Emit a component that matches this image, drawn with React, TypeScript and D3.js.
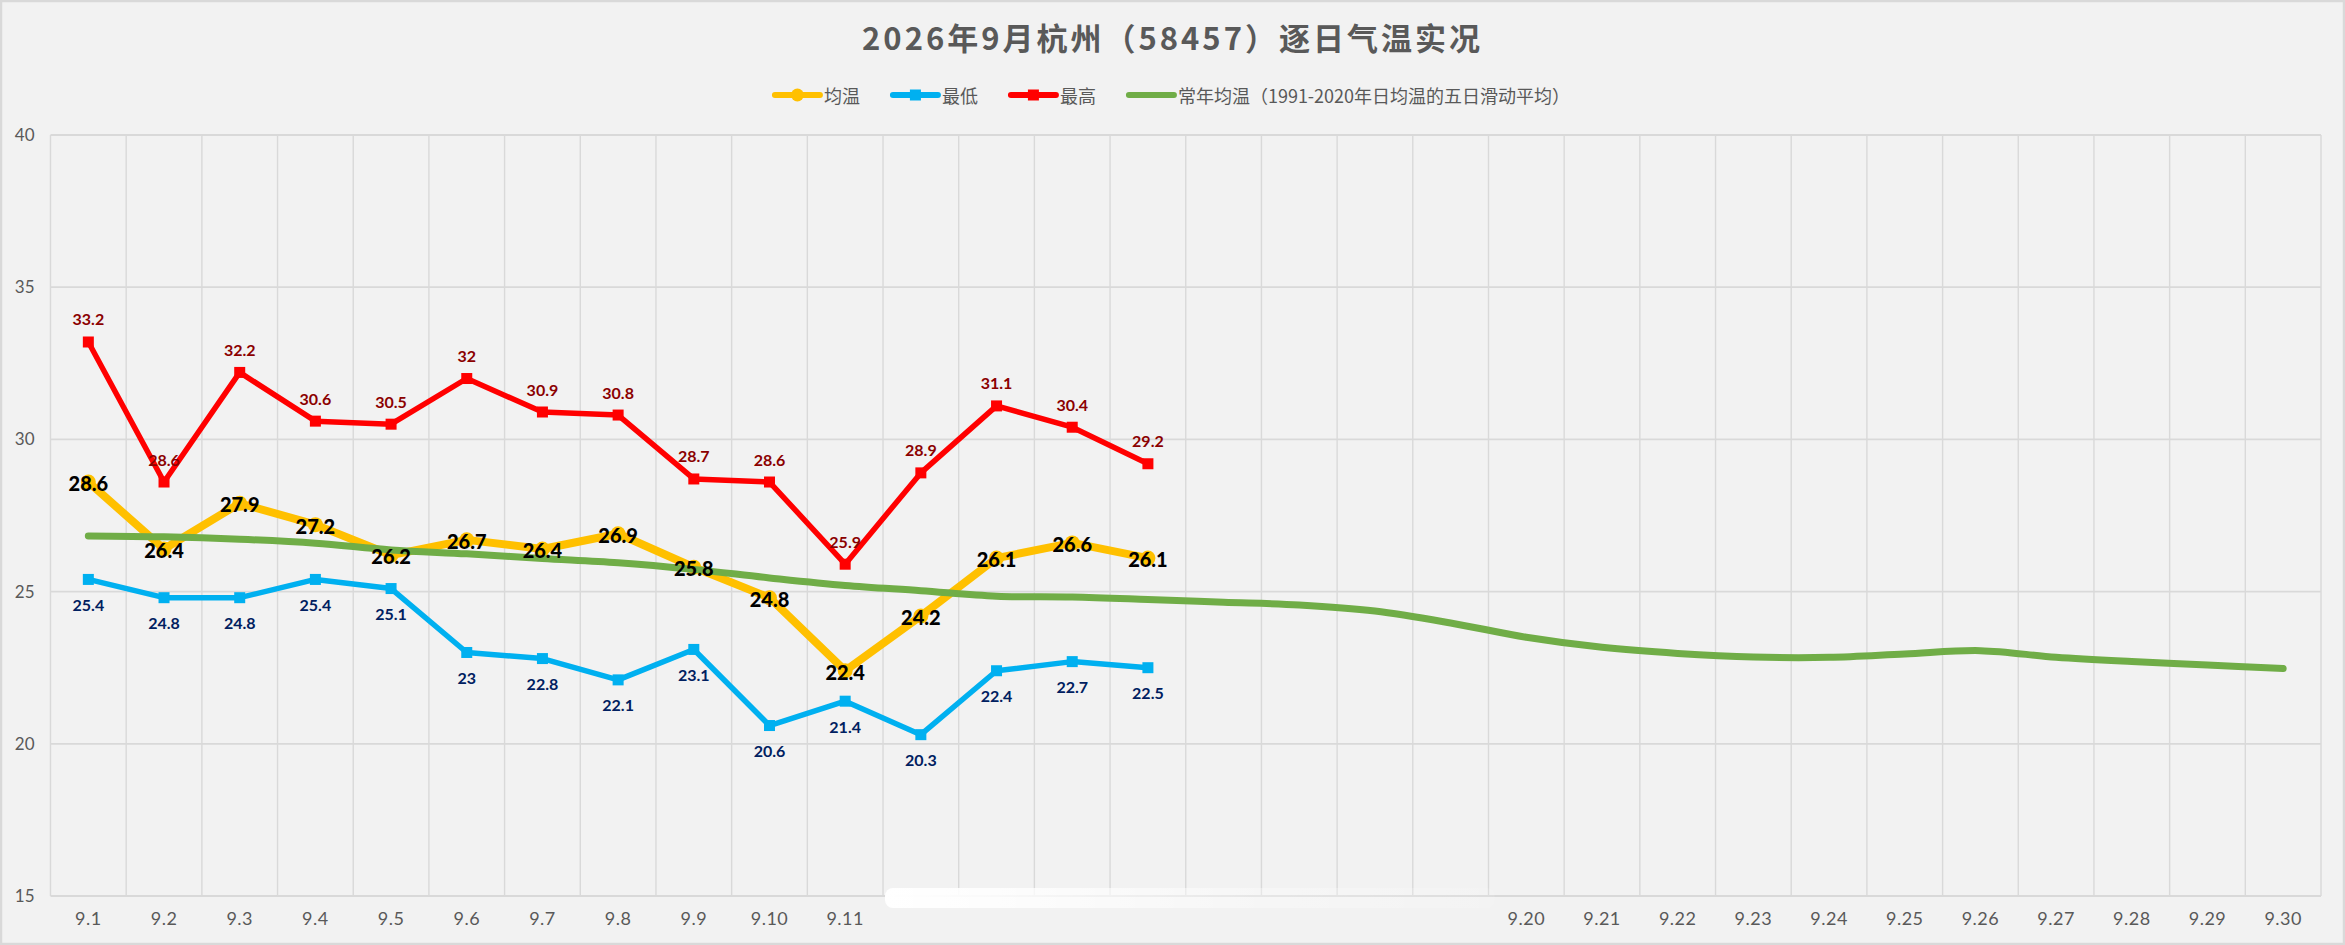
import React, { useEffect, useRef } from 'react';
import * as d3 from 'd3';

// 日期（9月）
const categories = [
  '9.1', '9.2', '9.3', '9.4', '9.5', '9.6', '9.7', '9.8', '9.9', '9.10',
  '9.11', '9.12', '9.13', '9.14', '9.15', '9.16', '9.17', '9.18', '9.19', '9.20',
  '9.21', '9.22', '9.23', '9.24', '9.25', '9.26', '9.27', '9.28', '9.29', '9.30',
];

// 实况（9.1 - 9.15）
const avgTemp = [28.6, 26.4, 27.9, 27.2, 26.2, 26.7, 26.4, 26.9, 25.8, 24.8, 22.4, 24.2, 26.1, 26.6, 26.1];
const minTemp = [25.4, 24.8, 24.8, 25.4, 25.1, 23, 22.8, 22.1, 23.1, 20.6, 21.4, 20.3, 22.4, 22.7, 22.5];
const maxTemp = [33.2, 28.6, 32.2, 30.6, 30.5, 32, 30.9, 30.8, 28.7, 28.6, 25.9, 28.9, 31.1, 30.4, 29.2];

// 常年均温（1991-2020 五日滑动平均），读图估计
const normalTemp = [
  26.83, 26.8, 26.72, 26.59, 26.37, 26.24, 26.09, 25.95, 25.73, 25.45,
  25.2, 25.03, 24.85, 24.82, 24.74, 24.65, 24.56, 24.36, 23.97, 23.5,
  23.17, 22.97, 22.85, 22.84, 22.95, 23.06, 22.84, 22.7, 22.59, 22.47,
];

const yTicks = [15, 20, 25, 30, 35, 40];

// 被遮挡的刻度标签（9.12 - 9.19）
const hiddenLabels = ['9.12', '9.13', '9.14', '9.15', '9.16', '9.17', '9.18', '9.19'];

const title = '2026年9月杭州（58457）逐日气温实况';
const legendItems = [
  { name: '均温', color: '#FFC000', marker: 'circle' },
  { name: '最低', color: '#00B0F0', marker: 'square' },
  { name: '最高', color: '#FF0000', marker: 'square' },
  { name: '常年均温（1991-2020年日均温的五日滑动平均）', color: '#70AD47', marker: 'none' },
];

const W = 2345;
const H = 945;
const LABEL_FONT = 'Lato, "Noto Sans", sans-serif';
const CJK_FONT = '"Noto Sans CJK SC", "Noto Sans", sans-serif';

export default function App() {
  const svgRef = useRef<SVGSVGElement>(null);

  useEffect(() => {
    if (!svgRef.current) return;
    const svg = d3.select(svgRef.current);
    svg.selectAll('*').remove();

    const margin = { top: 135, right: 24, bottom: 49, left: 50.5 };

    const x = d3.scaleBand<string>()
      .domain(categories)
      .range([margin.left, W - margin.right]);

    const y = d3.scaleLinear()
      .domain([15, 40])
      .range([H - margin.bottom, margin.top]);

    const cx = (i: number) => x(categories[i])! + x.bandwidth() / 2;

    // background + frame
    svg.append('rect')
      .attr('x', 1).attr('y', 1)
      .attr('width', W - 2).attr('height', H - 2)
      .attr('fill', '#F2F2F2')
      .attr('stroke', '#D9D9D9')
      .attr('stroke-width', 2.5);

    // grid
    const grid = svg.append('g').attr('class', 'grid');
    grid.selectAll('line.h')
      .data(yTicks)
      .join('line')
      .attr('class', 'h')
      .attr('x1', margin.left).attr('x2', W - margin.right)
      .attr('y1', d => y(d)).attr('y2', d => y(d))
      .attr('stroke', '#D9D9D9')
      .attr('stroke-width', 1.8);

    const bounds = categories.map(c => x(c)!).concat([x(categories[categories.length - 1])! + x.bandwidth()]);
    grid.selectAll('line.v')
      .data(bounds)
      .join('line')
      .attr('class', 'v')
      .attr('x1', d => d).attr('x2', d => d)
      .attr('y1', margin.top).attr('y2', H - margin.bottom)
      .attr('stroke', '#D9D9D9')
      .attr('stroke-width', 1.4);

    // axes
    const yAxis = svg.append('g')
      .attr('transform', `translate(${margin.left},0)`)
      .call(d3.axisLeft(y).tickValues(yTicks).tickSize(0).tickPadding(16));
    yAxis.select('.domain').remove();
    yAxis.selectAll('text')
      .style('font-family', LABEL_FONT)
      .style('font-size', '17px')
      .style('fill', '#595959');

    const xAxis = svg.append('g')
      .attr('transform', `translate(0,${H - margin.bottom})`)
      .call(d3.axisBottom(x).tickSize(0).tickPadding(16));
    xAxis.select('.domain').remove();
    xAxis.selectAll('text')
      .style('font-family', LABEL_FONT)
      .style('font-size', '18px')
      .style('letter-spacing', '0.5px')
      .style('fill', '#595959');

    // smeared area hiding 9.12 - 9.19 labels
    const x0 = x(hiddenLabels[0])! + 2;
    const x1 = x(hiddenLabels[hiddenLabels.length - 1])! + x.bandwidth() + 6;
    svg.append('rect')
      .attr('x', x0 - 12).attr('y', H - margin.bottom + 4)
      .attr('width', x1 - x0 + 12).attr('height', 40)
      .attr('fill', '#F2F2F2');
    const defs = svg.append('defs');
    const grad = defs.append('linearGradient').attr('id', 'smear');
    grad.append('stop').attr('offset', '0%').attr('stop-color', '#fff').attr('stop-opacity', 1);
    grad.append('stop').attr('offset', '18%').attr('stop-color', '#fff').attr('stop-opacity', 0.85);
    grad.append('stop').attr('offset', '60%').attr('stop-color', '#fff').attr('stop-opacity', 0.35);
    grad.append('stop').attr('offset', '100%').attr('stop-color', '#fff').attr('stop-opacity', 0.1);
    svg.append('rect')
      .attr('x', x0).attr('y', H - margin.bottom - 8)
      .attr('width', x1 - x0).attr('height', 20)
      .attr('rx', 8)
      .attr('fill', 'url(#smear)');

    // lines
    const line = d3.line<number>()
      .x((_, i) => cx(i))
      .y(d => y(d));

    const smooth = d3.line<number>()
      .x((_, i) => cx(i))
      .y(d => y(d))
      .curve(d3.curveCatmullRom.alpha(0.5));

    svg.append('path')
      .datum(avgTemp)
      .attr('d', line)
      .attr('fill', 'none')
      .attr('stroke', '#FFC000')
      .attr('stroke-width', 8)
      .attr('stroke-linejoin', 'round');

    svg.append('g')
      .selectAll('circle')
      .data(avgTemp)
      .join('circle')
      .attr('cx', (_, i) => cx(i))
      .attr('cy', d => y(d))
      .attr('r', 7.5)
      .attr('fill', '#FFC000');

    svg.append('path')
      .datum(minTemp)
      .attr('d', line)
      .attr('fill', 'none')
      .attr('stroke', '#00B0F0')
      .attr('stroke-width', 5.5)
      .attr('stroke-linejoin', 'round');

    svg.append('g')
      .selectAll('rect')
      .data(minTemp)
      .join('rect')
      .attr('x', (_, i) => cx(i) - 5.5)
      .attr('y', d => y(d) - 5.5)
      .attr('width', 11).attr('height', 11)
      .attr('fill', '#00B0F0');

    svg.append('path')
      .datum(maxTemp)
      .attr('d', line)
      .attr('fill', 'none')
      .attr('stroke', '#FF0000')
      .attr('stroke-width', 5.5)
      .attr('stroke-linejoin', 'round');

    svg.append('g')
      .selectAll('rect')
      .data(maxTemp)
      .join('rect')
      .attr('x', (_, i) => cx(i) - 5.5)
      .attr('y', d => y(d) - 5.5)
      .attr('width', 11).attr('height', 11)
      .attr('fill', '#FF0000');

    svg.append('path')
      .datum(normalTemp)
      .attr('d', smooth)
      .attr('fill', 'none')
      .attr('stroke', '#70AD47')
      .attr('stroke-width', 7)
      .attr('stroke-linecap', 'round');

    // data labels
    svg.append('g')
      .selectAll('text')
      .data(maxTemp)
      .join('text')
      .attr('x', (_, i) => cx(i))
      .attr('y', d => y(d) - 23)
      .attr('text-anchor', 'middle')
      .attr('dominant-baseline', 'central')
      .style('font-family', LABEL_FONT)
      .style('font-weight', 'bold')
      .style('font-size', '16px')
      .style('fill', '#8B0000')
      .text(d => d);

    svg.append('g')
      .selectAll('text')
      .data(minTemp)
      .join('text')
      .attr('x', (_, i) => cx(i))
      .attr('y', d => y(d) + 25)
      .attr('text-anchor', 'middle')
      .attr('dominant-baseline', 'central')
      .style('font-family', LABEL_FONT)
      .style('font-weight', 'bold')
      .style('font-size', '16px')
      .style('fill', '#002060')
      .text(d => d);

    svg.append('g')
      .selectAll('text')
      .data(avgTemp)
      .join('text')
      .attr('x', (_, i) => cx(i))
      .attr('y', d => y(d) + 1)
      .attr('text-anchor', 'middle')
      .attr('dominant-baseline', 'central')
      .style('font-family', LABEL_FONT)
      .style('font-weight', 900)
      .style('font-size', '20px')
      .style('fill', '#000')
      .text(d => d);

    // title
    svg.append('text')
      .attr('x', W / 2)
      .attr('y', 50)
      .attr('text-anchor', 'middle')
      .style('font-family', CJK_FONT)
      .style('font-weight', 'bold')
      .style('font-size', '31px')
      .style('letter-spacing', '3px')
      .style('fill', '#595959')
      .text(title);

    // legend
    const legend = svg.append('g');
    const legendY = 95;
    const lineLen = 45;
    const gapText = 4;
    const gapItem = 33;
    let cursor = 0;
    legendItems.forEach(item => {
      const g = legend.append('g').attr('transform', `translate(${cursor},0)`);
      g.append('line')
        .attr('x1', 0).attr('x2', lineLen)
        .attr('y1', legendY).attr('y2', legendY)
        .attr('stroke', item.color)
        .attr('stroke-width', 6)
        .attr('stroke-linecap', 'round');
      if (item.marker === 'circle') {
        g.append('circle').attr('cx', lineLen / 2).attr('cy', legendY).attr('r', 6.5).attr('fill', item.color);
      } else if (item.marker === 'square') {
        g.append('rect')
          .attr('x', lineLen / 2 - 5.5).attr('y', legendY - 5.5)
          .attr('width', 11).attr('height', 11)
          .attr('fill', item.color);
      }
      const t = g.append('text')
        .attr('x', lineLen + gapText)
        .attr('y', legendY)
        .attr('dominant-baseline', 'central')
        .style('font-family', CJK_FONT)
        .style('font-size', '18px')
        .style('fill', '#595959')
        .text(item.name);
      const tw = (t.node() as SVGTextElement).getComputedTextLength();
      cursor += lineLen + gapText + tw + gapItem;
    });
    const total = cursor - gapItem;
    legend.attr('transform', `translate(${(W - total) / 2},0)`);
  }, []);

  return (
    <div style={{ position: 'absolute', left: 0, top: 0, width: W, height: H, background: '#fff' }}>
      <svg ref={svgRef} width={W} height={H} />
    </div>
  );
}
